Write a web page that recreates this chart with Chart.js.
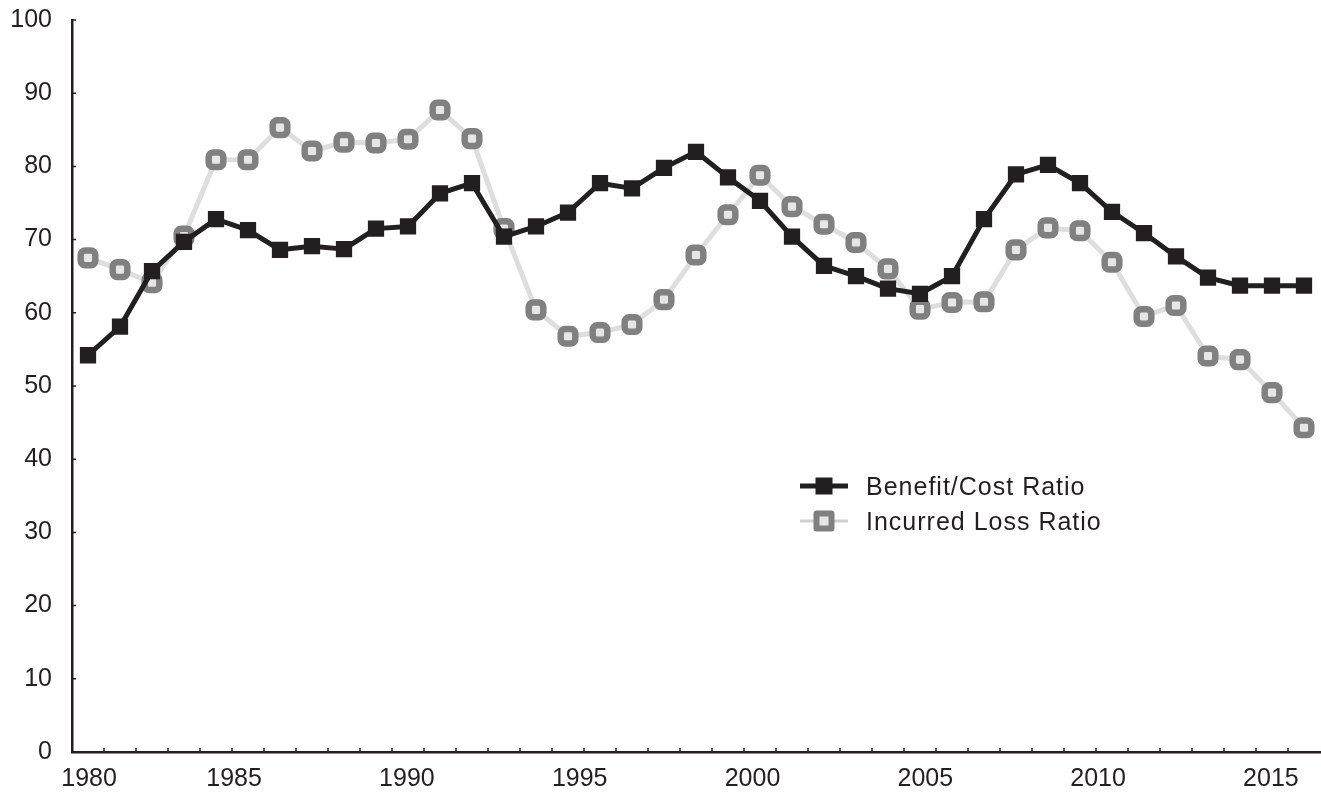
<!DOCTYPE html>
<html>
<head>
<meta charset="utf-8">
<script src="https://cdn.jsdelivr.net/npm/chart.js@4/dist/chart.umd.min.js"></script>
<style>
  body { margin: 0; background: #fff; }
  #wrap { position: relative; width: 1321px; height: 794px; }
  #legend { position: absolute; left: 0; top: 0; font-family: "Liberation Sans", Arial, sans-serif; font-size: 25px; color: #231f20; letter-spacing: 1px; }
  .row { position: absolute; left: 800px; height: 30px; display: flex; align-items: center; white-space: nowrap; }
  .mark { position: relative; width: 48px; height: 30px; margin-right: 18px; }
  .mark .ln { position: absolute; left: 0; width: 48px; top: 50%; transform: translateY(-50%); }
  .mark .sq { position: absolute; left: 50%; top: 50%; transform: translate(-50%, -50%); box-sizing: border-box; }
</style>
</head>
<body>
<div id="wrap">
  <canvas id="ratioChart" width="1321" height="794"></canvas>
  <div id="legend"></div>
</div>
<script>
// points along the hidden category axis (one per plotted value)
const periods = ["1980","1981","1982","1983","1984","1985","1986","1987","1988","1989",
  "1990","1991","1992","1993","1994","1995","1996","1997","1998","1999",
  "2000","2001","2002","2003","2004","2005","2006","2007","2008","2009",
  "2010","2011","2012","2013","2014","2015","2016","2017","2018"];

const benefitCost = [54.2, 58.1, 65.7, 69.7, 72.8, 71.3, 68.6, 69.1, 68.7, 71.5,
  71.8, 76.3, 77.7, 70.4, 71.8, 73.7, 77.7, 77.0, 79.8, 82.0,
  78.5, 75.3, 70.4, 66.4, 65.0, 63.3, 62.6, 65.0, 72.8, 78.9,
  80.2, 77.7, 73.8, 70.9, 67.7, 64.8, 63.7, 63.7, 63.7];

const incurredLoss = [67.5, 65.9, 64.1, 70.5, 80.9, 80.9, 85.3, 82.1, 83.3, 83.2,
  83.7, 87.7, 83.8, 71.5, 60.4, 56.8, 57.3, 58.4, 61.8, 67.9,
  73.4, 78.8, 74.5, 72.1, 69.6, 66.0, 60.5, 61.4, 61.5, 68.6,
  71.6, 71.2, 66.9, 59.5, 61.0, 54.1, 53.6, 49.1, 44.3];

const seriesNames = ["Benefit/Cost Ratio", "Incurred Loss Ratio"];
const yearTicks = [1980, 1985, 1990, 1995, 2000, 2005, 2010, 2015];
const yearMin = 1980.31, yearMax = 2016.42;

const ink = "#231f20";
const font = { family: "'Liberation Sans', Arial, sans-serif", size: 25 };

// small tick marks pointing into the plot, like the original
const innerTicks = {
  id: "innerTicks",
  beforeDatasetsDraw(chart) {
    const ctx = chart.ctx;
    const x = chart.scales.x, y = chart.scales.y;
    const area = chart.chartArea;
    ctx.save();
    ctx.strokeStyle = ink;
    ctx.lineWidth = 1.5;
    ctx.beginPath();
    y.ticks.forEach((t, i) => {
      const py = y.getPixelForTick(i);
      ctx.moveTo(area.left, py);
      ctx.lineTo(area.left + 4, py);
    });
    for (let i = 1; i < periods.length; i++) {
      const px = (x.getPixelForValue(i - 1) + x.getPixelForValue(i)) / 2;
      ctx.moveTo(px, area.bottom);
      ctx.lineTo(px, area.bottom - 4);
    }
    ctx.stroke();
    ctx.restore();
  }
};

const ratioData = {
  labels: periods,
  datasets: [
    {
      label: seriesNames[0],
      data: benefitCost,
      borderColor: ink,
      backgroundColor: ink,
      borderWidth: 5,
      borderJoinStyle: "round",
      pointStyle: "rect",
      pointRadius: 11.5,
      pointBorderWidth: 0,
      pointBackgroundColor: ink,
      tension: 0,
    },
    {
      label: seriesNames[1],
      data: incurredLoss,
      borderColor: "#dedede",
      backgroundColor: "#e6e6e6",
      borderWidth: 5,
      borderJoinStyle: "round",
      pointStyle: "rectRounded",
      pointRadius: 8.5,
      pointBorderWidth: 6.5,
      pointBorderColor: "#808080",
      pointBackgroundColor: "#e6e6e6",
      tension: 0,
    },
  ],
};

const ratioConfig = {
  type: "line",
  data: ratioData,
  options: {
    responsive: false,
    animation: false,
    layout: { autoPadding: false, padding: { top: 20, right: 1, left: 0, bottom: 0 } },
    plugins: { legend: { display: false }, tooltip: { enabled: false } },
    scales: {
      x: {
        type: "category",
        offset: true,
        display: false,
      },
      years: {
        type: "linear",
        position: "bottom",
        min: yearMin,
        max: yearMax,
        // trailing blank tick keeps 2015 centred while 1980 hugs the axis start
        afterBuildTicks: (scale) => { scale.ticks = yearTicks.concat([yearMax]).map((v) => ({ value: v })); },
        afterFit: (scale) => { scale.height = 42; scale.paddingLeft = 0; scale.paddingRight = 0; },
        grid: { display: false, drawTicks: false },
        border: { display: true, color: ink, width: 2.5 },
        ticks: {
          color: ink, font: font, padding: 12, autoSkip: false, maxRotation: 0, align: "inner",
          callback: (v) => (yearTicks.includes(v) ? String(v) : ""),
        },
      },
      y: {
        min: 0,
        max: 100,
        afterFit: (scale) => { scale.width = 72; scale.paddingTop = 0; scale.paddingBottom = 0; },
        grid: { display: false, drawTicks: false },
        border: { display: true, color: ink, width: 2.5 },
        ticks: { stepSize: 10, color: ink, font: font, padding: 20 },
      },
    },
  },
  plugins: [innerTicks],
};

const ratioChart = new Chart(document.getElementById("ratioChart"), ratioConfig);

// legend placed inside the plot, built from the dataset styles
const legendRows = [
  { top: 471, line: { h: 5, c: ink }, sq: { s: 17, bg: ink, border: "none", r: 0 } },
  { top: 506, line: { h: 3, c: "#cfcfcf" }, sq: { s: 21, bg: "#e6e6e6", border: "6px solid #808080", r: 3 } },
];
const legendEl = document.getElementById("legend");
ratioData.datasets.forEach((ds, i) => {
  const st = legendRows[i];
  const row = document.createElement("div");
  row.className = "row";
  row.style.top = st.top + "px";
  row.innerHTML =
    '<div class="mark"><div class="ln" style="height:' + st.line.h + 'px;background:' + st.line.c + '"></div>' +
    '<div class="sq" style="width:' + st.sq.s + 'px;height:' + st.sq.s + 'px;background:' + st.sq.bg +
    ';border:' + st.sq.border + ';border-radius:' + st.sq.r + 'px"></div></div>' +
    '<span>' + ds.label + '</span>';
  legendEl.appendChild(row);
});
</script>
</body>
</html>
